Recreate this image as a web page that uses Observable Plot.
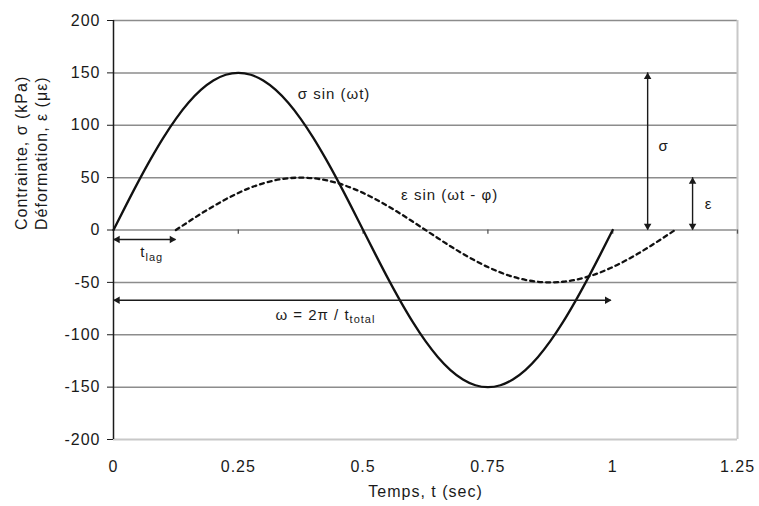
<!DOCTYPE html>
<html>
<head>
<meta charset="utf-8">
<script src="https://cdn.jsdelivr.net/npm/d3@7"></script>
<script src="https://cdn.jsdelivr.net/npm/@observablehq/plot@0.6"></script>
<style>
  html, body { margin: 0; padding: 0; background: #fff; }
  #chart svg { display: block; }
  #chart svg text { letter-spacing: 1px; }
</style>
</head>
<body>
<div id="chart"></div>
<script>
// ---- data ----
const xTicks = [0, 0.25, 0.5, 0.75, 1, 1.25];
const xTickLabels = ["0", "0.25", "0.5", "0.75", "1", "1.25"];
const yTicks = [-200, -150, -100, -50, 0, 50, 100, 150, 200];
const yTickLabels = ["-200", "-150", "-100", "-50", "0", "50", "100", "150", "200"];

// stress curve σ sin(ωt), time (s) and value (kPa)
const sigmaTime = [0, 0.025, 0.05, 0.075, 0.1, 0.125, 0.15, 0.175, 0.2, 0.225, 0.25,
  0.275, 0.3, 0.325, 0.35, 0.375, 0.4, 0.425, 0.45, 0.475, 0.5,
  0.525, 0.55, 0.575, 0.6, 0.625, 0.65, 0.675, 0.7, 0.725, 0.75,
  0.775, 0.8, 0.825, 0.85, 0.875, 0.9, 0.925, 0.95, 0.975, 1];
const sigmaValue = [0, 23.5, 46.4, 68.1, 88.2, 106.1, 121.4, 133.7, 142.7, 148.2, 150,
  148.2, 142.7, 133.7, 121.4, 106.1, 88.2, 68.1, 46.4, 23.5, 0,
  -23.5, -46.4, -68.1, -88.2, -106.1, -121.4, -133.7, -142.7, -148.2, -150,
  -148.2, -142.7, -133.7, -121.4, -106.1, -88.2, -68.1, -46.4, -23.5, 0];

// strain curve ε sin(ωt - φ), shifted by t_lag
const epsTime = [0.125, 0.15, 0.175, 0.2, 0.225, 0.25, 0.275, 0.3, 0.325, 0.35, 0.375,
  0.4, 0.425, 0.45, 0.475, 0.5, 0.525, 0.55, 0.575, 0.6, 0.625,
  0.65, 0.675, 0.7, 0.725, 0.75, 0.775, 0.8, 0.825, 0.85, 0.875,
  0.9, 0.925, 0.95, 0.975, 1, 1.025, 1.05, 1.075, 1.1, 1.125];
const epsValue = [0, 7.8, 15.5, 22.7, 29.4, 35.4, 40.5, 44.6, 47.6, 49.4, 50,
  49.4, 47.6, 44.6, 40.5, 35.4, 29.4, 22.7, 15.5, 7.8, 0,
  -7.8, -15.5, -22.7, -29.4, -35.4, -40.5, -44.6, -47.6, -49.4, -50,
  -49.4, -47.6, -44.6, -40.5, -35.4, -29.4, -22.7, -15.5, -7.8, 0];

// annotation arrows: horizontal [x1, x2, y], vertical [x, y1, y2]
const hArrows = [[0, 0.125, -9], [0, 0.997, -67]];
const vArrows = [[1.07, 0, 150], [1.16, 0, 50]];

// annotation texts [x, y, text]
const curveLabels = [[0.369, 130, "σ sin (ωt)"], [0.576, 33, "ε sin (ωt - φ)"]];
const ampLabels = [[1.102, 80, "σ"], [1.192, 25, "ε"]];
const subLabels = [[0.064, -21.5, "t", "lag"], [0.473, -81, "ω = 2π / t", "total"]];

const yTitle1 = "Contrainte, σ (kPa)";
const yTitle2 = "Déformation, ε (με)";
const xTitle = "Temps, t (sec)";

// ---- build tables ----
const sigma = sigmaTime.map((t, i) => ({t, v: sigmaValue[i]}));
const eps = epsTime.map((t, i) => ({t, v: epsValue[i]}));
const hA = hArrows.map(([x1, x2, y]) => ({x1, x2, y}));
const vA = vArrows.map(([x, y1, y2]) => ({x, y1, y2}));
const gridVals = yTicks.filter(d => d > -200);

const font = "Liberation Sans, Arial, sans-serif";
const ink = "#1a1a1a";

const chart = Plot.plot({
  width: 759,
  height: 506,
  marginLeft: 113,
  marginRight: 22,
  marginTop: 20,
  marginBottom: 67,
  style: {fontFamily: font, background: "#fff", color: ink},
  x: {domain: [0, 1.25]},
  y: {domain: [-200, 200]},
  marks: [
    // gridlines and plot border
    Plot.ruleY(gridVals, {stroke: "#8c8c8c", strokeWidth: 1.5}),
    Plot.ruleY([-200], {stroke: "#c8c8c8", strokeWidth: 2}),
    Plot.ruleX([1.25], {stroke: "#c8c8c8", strokeWidth: 2}),
    Plot.ruleX([0], {stroke: ink, strokeWidth: 1.5}),
    // small ticks on the zero line
    Plot.ruleX(xTicks.slice(1), {x: d => d, y1: 0, y2: -4, stroke: "#555", strokeWidth: 1.3}),
    // axes
    Plot.axisY(yTicks, {tickSize: 6, tickPadding: 7, fontSize: 16, stroke: ink, fill: ink,
      tickFormat: d => yTickLabels[yTicks.indexOf(d)], label: null}),
    Plot.axisX(xTicks, {tickSize: 0, tickPadding: 21, fontSize: 16, fill: ink,
      tickFormat: d => xTickLabels[xTicks.indexOf(d)], label: null}),
    // curves
    Plot.line(sigma, {x: "t", y: "v", stroke: "#111", strokeWidth: 2.3, curve: "monotone-x"}),
    Plot.line(eps, {x: "t", y: "v", stroke: "#111", strokeWidth: 2.3, strokeDasharray: "4,4", curve: "monotone-x"}),
    // arrows
    Plot.ruleY(hA, {x1: "x1", x2: "x2", y: "y", stroke: ink, strokeWidth: 1.4}),
    Plot.ruleX(vA, {x: "x", y1: "y1", y2: "y2", stroke: ink, strokeWidth: 1.4}),
    Plot.dot(hA, {x: "x1", y: "y", symbol: "triangle", r: 2.8, fill: ink, rotate: -90, dx: 4}),
    Plot.dot(hA, {x: "x2", y: "y", symbol: "triangle", r: 2.8, fill: ink, rotate: 90, dx: -4}),
    Plot.dot(vA, {x: "x", y: "y1", symbol: "triangle", r: 2.8, fill: ink, rotate: 180, dy: -4}),
    Plot.dot(vA, {x: "x", y: "y2", symbol: "triangle", r: 2.8, fill: ink, rotate: 0, dy: 4}),
    // annotation texts
    Plot.text(curveLabels, {x: d => d[0], y: d => d[1], text: d => d[2], textAnchor: "start", fontSize: 15, fill: ink}),
    Plot.text(ampLabels, {x: d => d[0], y: d => d[1], text: d => d[2], fontSize: 15, fill: ink}),
    Plot.text(subLabels, {x: d => d[0], y: d => d[1], text: d => d[2], textAnchor: "end", fontSize: 15, fill: ink}),
    Plot.text(subLabels, {x: d => d[0], y: d => d[1], text: d => d[3], textAnchor: "start", fontSize: 11, dy: 5, fill: ink}),
    // axis titles
    Plot.text([xTitle], {frameAnchor: "bottom", text: d => d, dy: 57, fontSize: 16, fill: ink}),
    Plot.text([yTitle1], {frameAnchor: "left", text: d => d, rotate: -90, dx: -92, fontSize: 16, fill: ink}),
    Plot.text([yTitle2], {frameAnchor: "left", text: d => d, rotate: -90, dx: -72, fontSize: 16, fill: ink}),
  ]
});
document.getElementById("chart").appendChild(chart);
</script>
</body>
</html>
